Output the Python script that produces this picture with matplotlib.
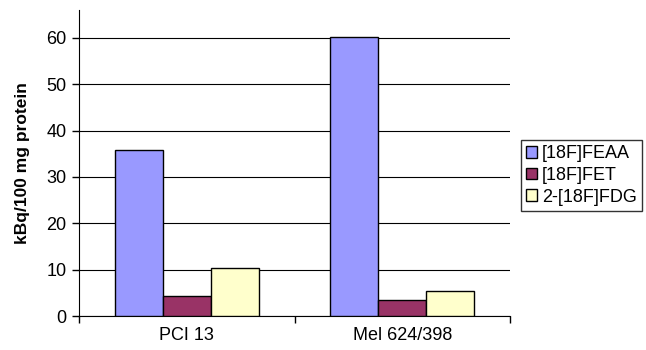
import numpy as np
import matplotlib.pyplot as plt

plt.rcParams['font.family'] = ['Liberation Sans', 'DejaVu Sans']

categories = ['PCI 13', 'Mel 624/398']
series = ['[18F]FEAA', '[18F]FET', '2-[18F]FDG']
feaa = [35.7, 60.2]
fet = [4.3, 3.45]
fdg = [10.3, 5.3]
colors = ['#9999FF', '#993366', '#FFFFCC']
yticks = [0, 10, 20, 30, 40, 50, 60]

fig = plt.figure(figsize=(6.46, 3.5), dpi=100)
ax = fig.add_axes([0.1223, 0.0971, 0.6672, 0.8743])

x = np.arange(len(categories)) + 0.5
w = 0.223
for i, (name, vals) in enumerate(zip(series, [feaa, fet, fdg])):
    ax.bar(x + (i - 1) * w, vals, width=w, color=colors[i],
           edgecolor='black', linewidth=1, label=name, zorder=3)

ax.set_xlim(0, len(categories))
ax.set_ylim(0, 66)
ax.set_yticks(yticks)
ax.set_xticks(x)
ax.set_xticklabels(categories, fontsize=13)
ax.set_xticks([0, 1, 2], minor=True)
ax.tick_params(axis='x', which='major', length=0, pad=8)
ax.tick_params(axis='x', which='minor', length=5, width=1, direction='out')
ax.tick_params(axis='y', length=5, width=1, labelsize=13, pad=4)

ax.yaxis.grid(True, color='black', linewidth=0.8, zorder=0)
ax.set_axisbelow(True)
for s in ['top', 'right']:
    ax.spines[s].set_visible(False)
ax.spines['left'].set_color('black')
ax.spines['bottom'].set_color('black')

ax.set_ylabel('kBq/100 mg protein', fontsize=12.5, fontweight='bold', labelpad=12)

leg = fig.legend(loc='center left', bbox_to_anchor=(521 / 646, 1 - 175.5 / 350),
                 fontsize=13, frameon=True, fancybox=False, edgecolor='black',
                 handlelength=0.6, handleheight=0.6, handletextpad=0.25,
                 borderpad=0.3, labelspacing=0.25, borderaxespad=0)
leg.get_frame().set_linewidth(1)

fig.savefig('out.png', dpi=100)
